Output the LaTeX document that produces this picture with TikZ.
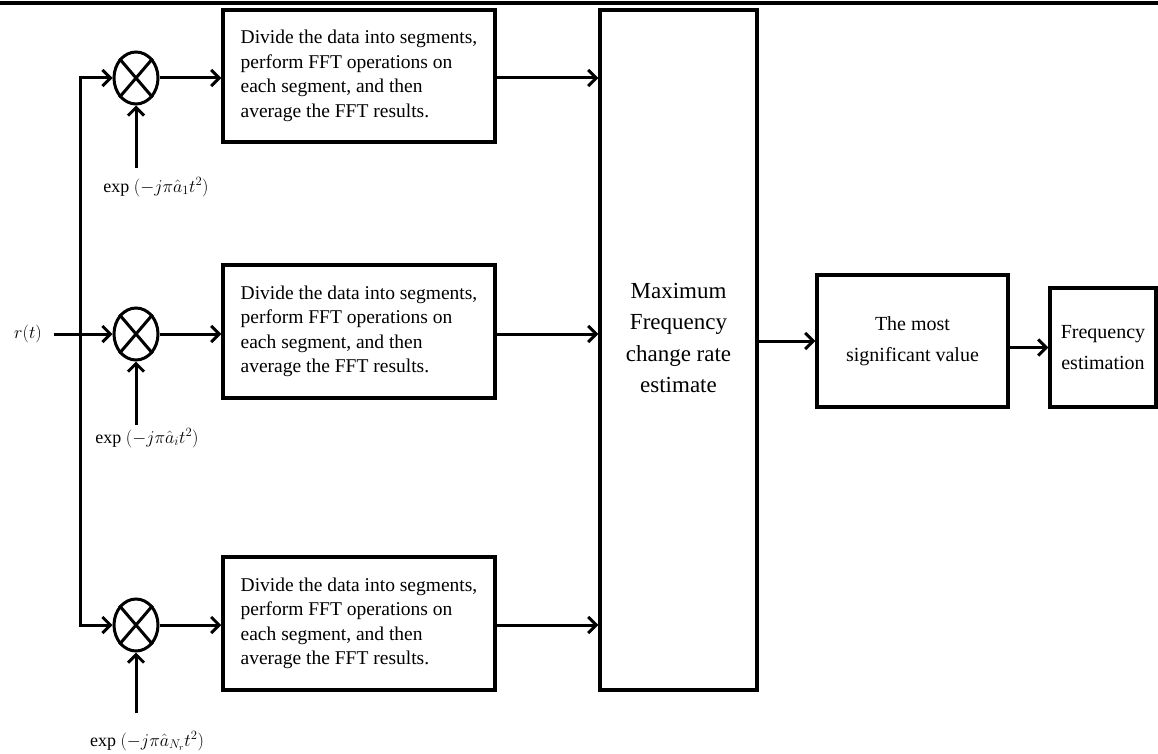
\RequirePackage{fix-cm}
\documentclass[tikz,border=0pt]{standalone}
\usepackage{fontspec}
\setmainfont{Liberation Serif}
\usetikzlibrary{arrows.meta,shapes.geometric}
\tikzset{
  arr/.style={line width=3pt, -{Straight Barb[length=8pt,width=16pt]}},
  mult/.style={ellipse, draw, line width=3pt, minimum width=44pt, minimum height=52pt, inner sep=0pt},
  fftbox/.style={draw, line width=3.5pt, minimum width=272pt, minimum height=133pt, align=left, inner sep=0pt,
    font=\fontsize{19.5}{24.5}\selectfont},
  bigbox/.style={draw, line width=3.5pt, minimum width=157pt, minimum height=680pt, inner sep=0pt},
  bigtext/.style={align=center, font=\fontsize{23}{31.5}\selectfont},
  rbox/.style={draw, line width=3.5pt, align=center, inner sep=0pt, font=\fontsize{20}{31}\selectfont},
  lab/.style={font=\fontsize{18}{20}\selectfont, inner sep=0pt}
}
\begin{document}
\begin{tikzpicture}[x=1pt,y=-1pt]
\useasboundingbox (0,0) rectangle (1158,754);
\fill[white] (0,0) rectangle (1158,754);
% top rule
\coordinate (tl) at (0,3);
\coordinate (tr) at (1158,3);
\draw[line width=3.5pt] (tl) -- (tr);

% multipliers
\node[mult] (c1) at (136,78) {};
\node[mult] (c2) at (136,334) {};
\node[mult] (c3) at (136,625) {};
\foreach \c in {c1,c2,c3}{
  \draw[line width=3pt] (\c.north east) -- (\c.south west);
  \draw[line width=3pt] (\c.north west) -- (\c.south east);
}

% input
\node[lab] (rt) at (28,334) {$r(t)$};
\coordinate (rs) at (54,334);
\draw[arr] (rs) -- (c2);
\coordinate (v1) at (80,78);
\coordinate (v3) at (80,625);
\draw[arr] (v3) -- (v1) -- (c1);
\draw[arr] (v1) -- (v3) -- (c3);

% exp labels
\node[lab] (l1) at (156,187) {exp~$(-j\pi\hat{a}_1t^2)$};
\node[lab] (l2) at (147,438) {exp~$(-j\pi\hat{a}_it^2)$};
\node[lab] (l3) at (147,741) {exp~$(-j\pi\hat{a}_{N_r}t^2)$};
\coordinate (u1) at (136,168);
\coordinate (u2) at (136,425);
\coordinate (u3) at (136,713);
\draw[arr] (u1) -- (c1);
\draw[arr] (u2) -- (c2);
\draw[arr] (u3) -- (c3);

% FFT boxes
\node[fftbox, minimum height=132pt] (f1) at (359,76) {Divide the data into segments,\\perform FFT operations on\\each segment, and then\\average the FFT results.};
\node[fftbox] (f2) at (359,331.5) {Divide the data into segments,\\perform FFT operations on\\each segment, and then\\average the FFT results.};
\node[fftbox] (f3) at (359,623.5) {Divide the data into segments,\\perform FFT operations on\\each segment, and then\\average the FFT results.};
\draw[arr] (c1) -- (f1.west |- c1);
\draw[arr] (c2) -- (f2.west |- c2);
\draw[arr] (c3) -- (f3.west |- c3);

% big box
\node[bigbox] (big) at (678.5,350) {};
\node[bigtext] (bigt) at (678.5,338) {Maximum\\Frequency\\change rate\\estimate};
\draw[arr] (f1.east |- c1) -- (big.west |- c1);
\draw[arr] (f2.east |- c2) -- (big.west |- c2);
\draw[arr] (f3.east |- c3) -- (big.west |- c3);

% right boxes
\node[rbox, minimum width=191pt, minimum height=132pt] (b2) at (912.5,341) {The most\\significant value};
\node[rbox, minimum width=106pt, minimum height=119pt] (b3) at (1103,347.5) {Frequency\\estimation};
\draw[arr] (big.east |- b2.west) -- (b2.west);
\draw[arr] (b2.east |- b3.west) -- (b3.west);
\end{tikzpicture}
\end{document}
